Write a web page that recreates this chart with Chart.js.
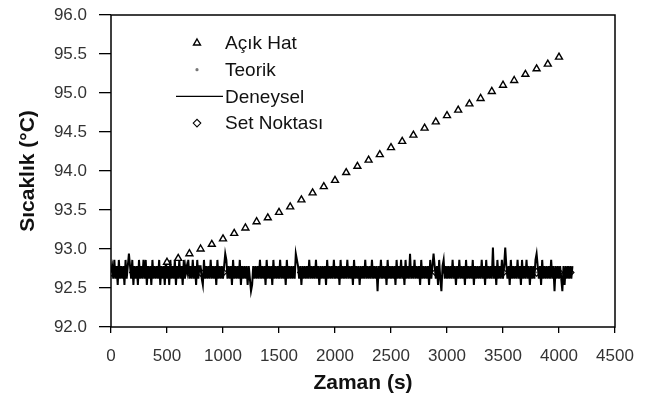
<!DOCTYPE html>
<html>
<head>
<meta charset="utf-8">
<script src="https://cdn.jsdelivr.net/npm/chart.js@4"></script>
<style>
    html, body { margin: 0; padding: 0; background: #ffffff; }
    #wrap { width: 655px; height: 402px; }
</style>
</head>
<body>
<div id="wrap"><canvas id="chart" width="655" height="402"></canvas></div>
<script>
// Açık Hat (open loop) - triangles every 100 s (earlier ones are lost in the noise band)
const acikHatTime = [500, 600, 700, 800, 900, 1000, 1100, 1200, 1300, 1400,
    1500, 1600, 1700, 1800, 1900, 2000, 2100, 2200, 2300, 2400, 2500, 2600, 2700, 2800, 2900,
    3000, 3100, 3200, 3300, 3400, 3500, 3600, 3700, 3800, 3900, 4000];
const acikHatTemp = [92.83, 92.88, 92.94, 93.00, 93.06, 93.13,
    93.20, 93.27, 93.35, 93.40, 93.47, 93.54, 93.63, 93.72, 93.80, 93.88, 93.98, 94.06, 94.14,
    94.21, 94.30, 94.38, 94.46, 94.55, 94.63, 94.71, 94.78, 94.86, 94.93, 95.02, 95.10, 95.16,
    95.24, 95.31, 95.37, 95.46];

// Teorik and Set Noktası sit on the set point
const setTime = [0, 100, 200, 300, 400, 500, 600, 700, 800, 900, 1000, 1100, 1200, 1300, 1400,
    1500, 1600, 1700, 1800, 1900, 2000, 2100, 2200, 2300, 2400, 2500, 2600, 2700, 2800, 2900,
    3000, 3100, 3200, 3300, 3400, 3500, 3600, 3700, 3800, 3900, 4000, 4100];
const setTemp = [92.7, 92.7, 92.7, 92.7, 92.7, 92.7, 92.7, 92.7, 92.7, 92.7, 92.7, 92.7, 92.7, 92.7,
    92.7, 92.7, 92.7, 92.7, 92.7, 92.7, 92.7, 92.7, 92.7, 92.7, 92.7, 92.7, 92.7, 92.7, 92.7, 92.7,
    92.7, 92.7, 92.7, 92.7, 92.7, 92.7, 92.7, 92.7, 92.7, 92.7, 92.7, 92.7];
const teorikTemp = [92.7, 92.7, 92.7, 92.7, 92.7, 92.7, 92.7, 92.7, 92.7, 92.7, 92.7, 92.7, 92.7, 92.7,
    92.7, 92.7, 92.7, 92.7, 92.7, 92.7, 92.7, 92.7, 92.7, 92.7, 92.7, 92.7, 92.7, 92.7, 92.7, 92.7,
    92.7, 92.7, 92.7, 92.7, 92.7, 92.7, 92.7, 92.7, 92.7, 92.7, 92.7, 92.7];

// Deneysel (measured) - quantised sensor readings, one code per 10 s
const sensorLevels = [92.46, 92.54, 92.62, 92.70, 92.78, 92.86, 92.94, 93.02];
const deneyselCodes = (
    '3425241524' + '2415246425' + '1424152425' + '2514241524' + '2425142415' +
    '2415242514' + '2524152435' + '2425241524' + '4215242425' + '2424152424' +
    '2465242415' + '2424251424' + '2414201424' + '2425242415' + '2424152424' +
    '2524241524' + '2424265424' + '1424242524' + '2425241424' + '2415242425' +
    '2424152424' + '2524241524' + '2414242524' + '2425242404' + '2524241524' +
    '2424152425' + '2415242624' + '2524241524' + '2424152464' + '2415204524' +
    '2424252414' + '2524241524' + '2425142424' + '2524152424' + '2724152425' +
    '2474241524' + '2425241524' + '2524142425' + '6424152424' + '2425240424' +
    '2420414242' + '424'
).split('').map(Number);
const deneyselStep = 10;

const xTicks = [0, 500, 1000, 1500, 2000, 2500, 3000, 3500, 4000, 4500];
const yTicks = [92.0, 92.5, 93.0, 93.5, 94.0, 94.5, 95.0, 95.5, 96.0];

const toPoints = (xs, ys) => xs.map((x, i) => ({ x: x, y: ys[i] }));
const deneyselPoints = deneyselCodes.map((c, i) => ({ x: i * deneyselStep, y: sensorLevels[c] }));

const FONT = "'Liberation Sans', Arial, sans-serif";

function drawMarker(ctx, style, r, x, y) {
    ctx.save();
    Chart.helpers.drawPoint(ctx, { pointStyle: style, radius: r, borderWidth: ctx.lineWidth }, x, y);
    ctx.restore();
}

// legend drawn inside the plot area, like the original
const insideLegend = {
    id: 'insideLegend',
    afterDraw(chart) {
        const ctx = chart.ctx;
        const area = chart.chartArea;
        const mx = area.left + 86;
        const tx = area.left + 114;
        const y0 = area.top + 28;
        const gap = 26.7;
        ctx.save();
        ctx.font = '19px ' + FONT;
        ctx.textBaseline = 'middle';
        ctx.textAlign = 'left';
        chart.data.datasets.forEach((ds, i) => {
            const y = y0 + i * gap;
            if (ds.showLine) {
                ctx.strokeStyle = '#000';
                ctx.lineWidth = 1.3;
                ctx.beginPath();
                ctx.moveTo(area.left + 65, y);
                ctx.lineTo(tx - 2, y);
                ctx.stroke();
            } else {
                ctx.fillStyle = ds.pointBackgroundColor;
                ctx.strokeStyle = ds.pointBorderColor;
                ctx.lineWidth = ds.pointBorderWidth;
                drawMarker(ctx, ds.pointStyle, ds.pointRadius, mx, y);
            }
            ctx.fillStyle = '#111';
            ctx.fillText(ds.label, tx, y + 1);
        });
        ctx.restore();
    }
};

// full frame round the plot
const plotFrame = {
    id: 'plotFrame',
    afterDatasetsDraw(chart) {
        const a = chart.chartArea;
        const ctx = chart.ctx;
        ctx.save();
        ctx.strokeStyle = '#000';
        ctx.lineWidth = 1.5;
        ctx.strokeRect(a.left, a.top, a.right - a.left, a.bottom - a.top);
        ctx.restore();
    }
};

new Chart(document.getElementById('chart'), {
    type: 'scatter',
    data: {
        datasets: [{
            label: 'Açık Hat',
            data: toPoints(acikHatTime, acikHatTemp),
            pointStyle: 'triangle',
            pointRadius: 4,
            pointBorderWidth: 1.4,
            pointBackgroundColor: '#ffffff',
            pointBorderColor: '#000000',
            showLine: false,
            order: 0
        }, {
            label: 'Teorik',
            data: toPoints(setTime, teorikTemp),
            pointStyle: 'circle',
            pointRadius: 0.9,
            pointBorderWidth: 0,
            pointBackgroundColor: '#777777',
            pointBorderColor: '#777777',
            showLine: false,
            order: 2
        }, {
            label: 'Deneysel',
            data: deneyselPoints,
            borderColor: '#000000',
            borderWidth: 2,
            pointRadius: 0,
            showLine: true,
            tension: 0,
            order: 1
        }, {
            label: 'Set Noktası',
            data: toPoints(setTime, setTemp),
            pointStyle: 'rectRot',
            pointRadius: 3.8,
            pointBorderWidth: 1.1,
            pointBackgroundColor: '#ffffff',
            pointBorderColor: '#000000',
            showLine: false,
            order: 3
        }]
    },
    options: {
        responsive: false,
        animation: false,
        devicePixelRatio: 1,
        layout: { padding: { top: 15, right: 40, left: 0, bottom: 0 } },
        plugins: {
            legend: { display: false },
            tooltip: { enabled: false }
        },
        scales: {
            x: {
                type: 'linear',
                min: 0,
                max: 4500,
                afterFit: scale => {
                    scale.height = 75;
                    scale.paddingLeft = 0;
                    scale.paddingRight = 0;
                },
                afterBuildTicks: scale => { scale.ticks = xTicks.map(v => ({ value: v })); },
                ticks: {
                    color: '#333',
                    font: { family: FONT, size: 17 },
                    padding: 13,
                    maxRotation: 0,
                    callback: v => String(v)
                },
                grid: {
                    display: true,
                    drawOnChartArea: false,
                    drawTicks: true,
                    tickLength: 6,
                    color: '#000',
                    lineWidth: 1.3
                },
                border: { display: false },
                title: {
                    display: true,
                    text: 'Zaman (s)',
                    color: '#111',
                    font: { family: FONT, size: 21, weight: 'bold' },
                    padding: { top: 0, bottom: 6 }
                }
            },
            y: {
                type: 'linear',
                min: 92,
                max: 96,
                afterFit: scale => {
                    scale.width = 111;
                    scale.paddingTop = 0;
                    scale.paddingBottom = 0;
                },
                afterBuildTicks: scale => { scale.ticks = yTicks.map(v => ({ value: v })); },
                ticks: {
                    color: '#333',
                    font: { family: FONT, size: 17 },
                    padding: 12,
                    callback: v => Number(v).toFixed(1)
                },
                grid: {
                    display: true,
                    drawOnChartArea: false,
                    drawTicks: true,
                    tickLength: 12,
                    color: '#000',
                    lineWidth: 1.3
                },
                border: { display: false },
                title: {
                    display: true,
                    text: 'Sıcaklık (°C)',
                    color: '#111',
                    font: { family: FONT, size: 21, weight: 'bold' },
                    padding: { top: 16, bottom: 0 }
                }
            }
        }
    },
    plugins: [plotFrame, insideLegend]
});
</script>
</body>
</html>
